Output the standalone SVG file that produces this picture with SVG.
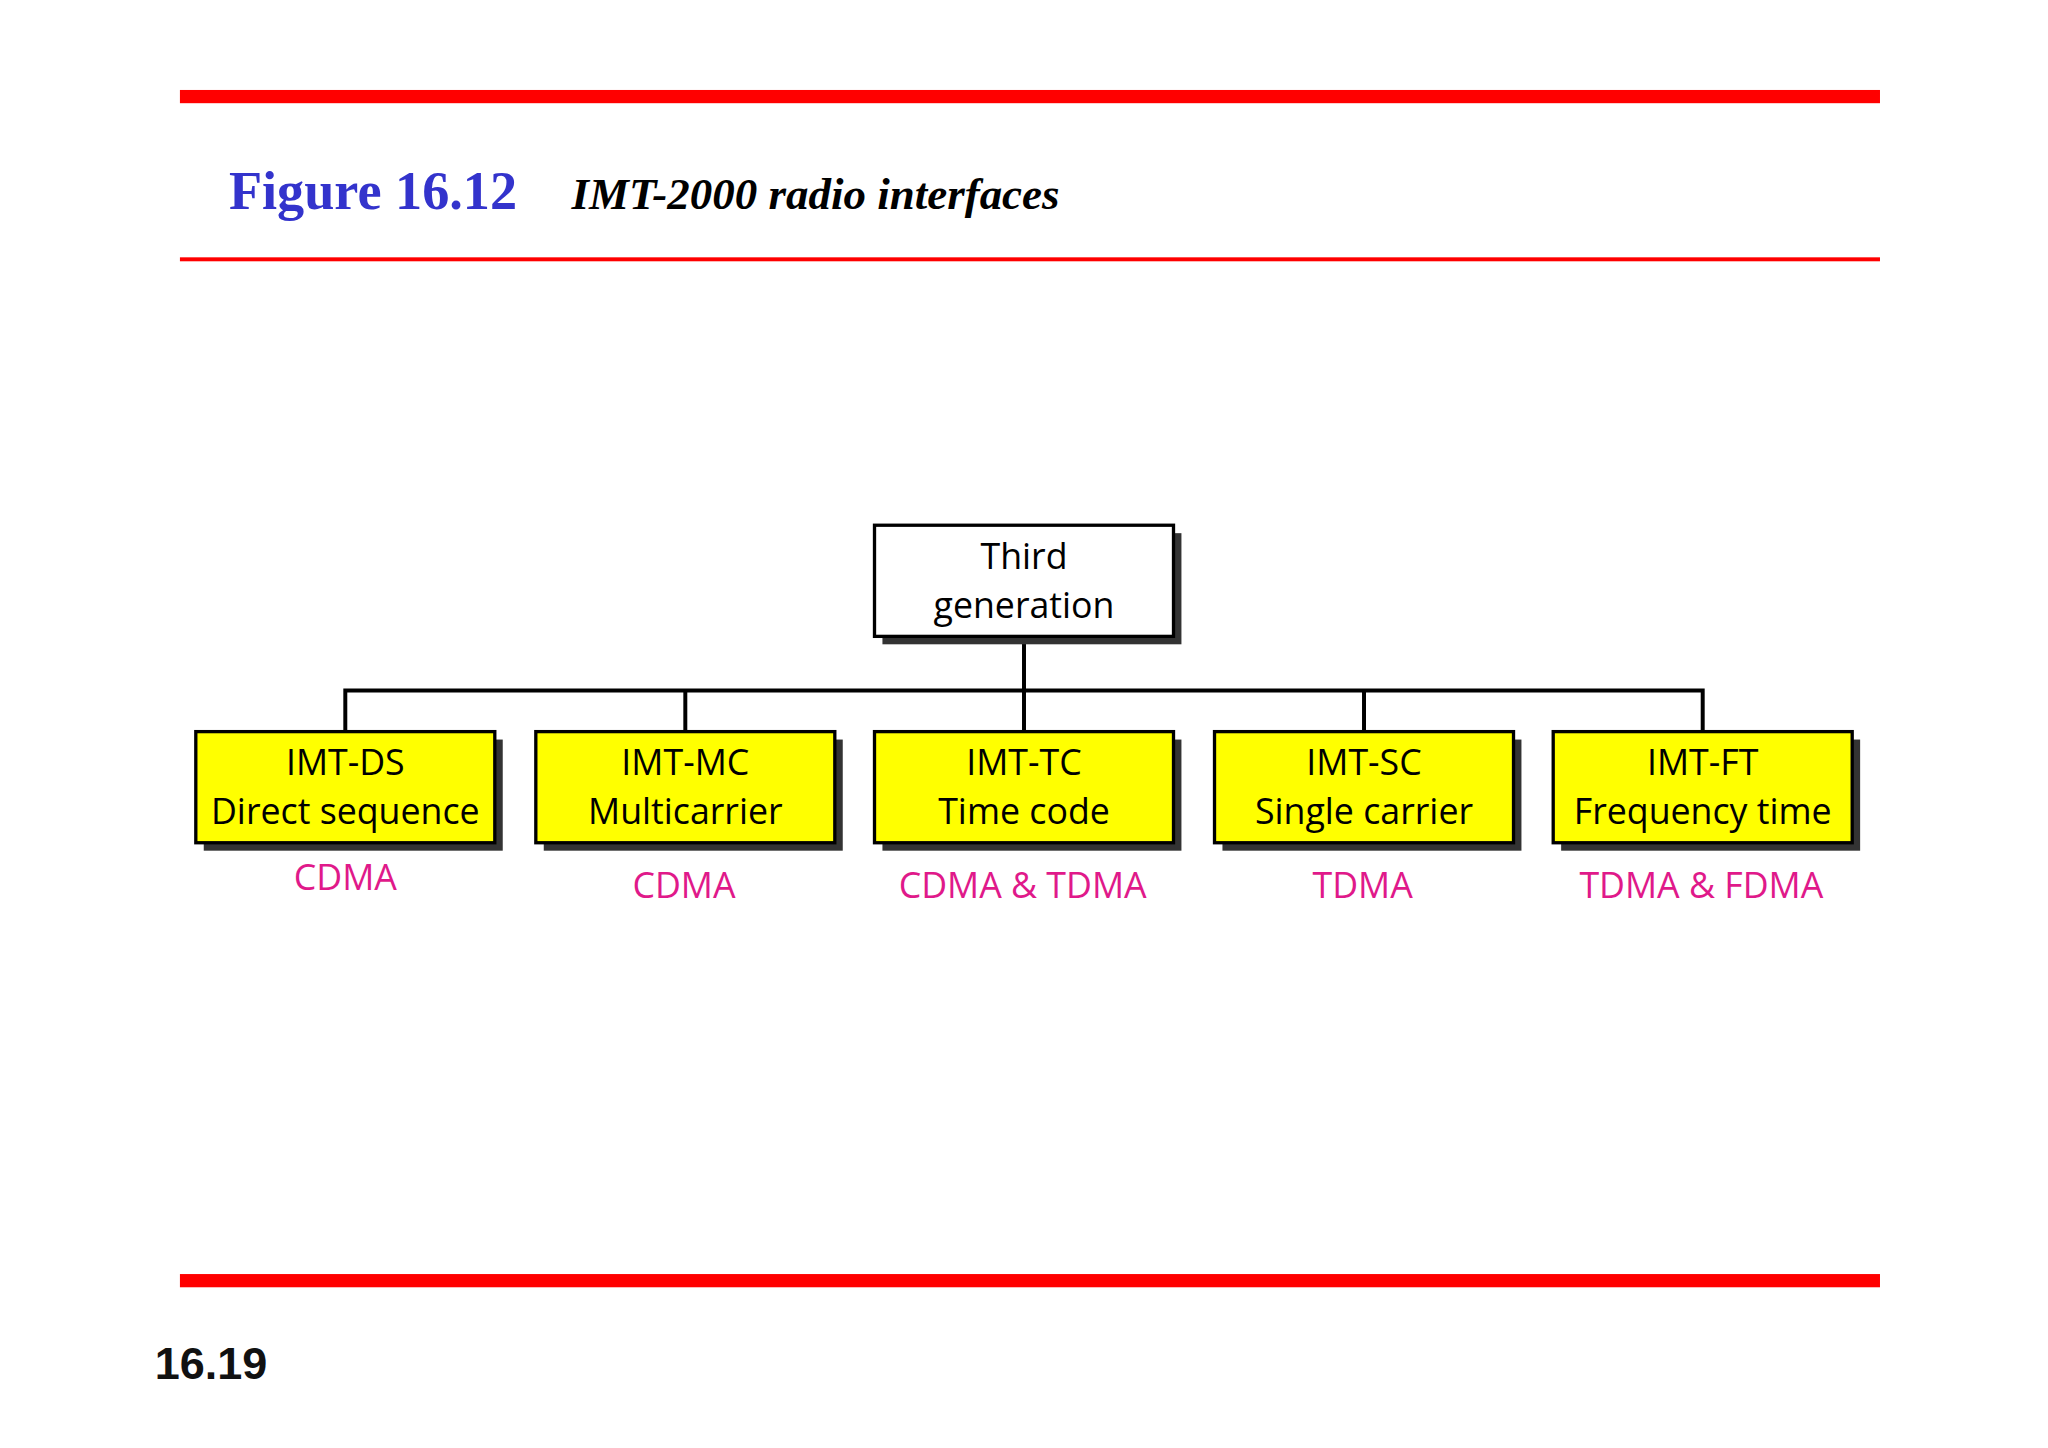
<svg xmlns="http://www.w3.org/2000/svg" width="2048" height="1448" viewBox="0 0 2048 1448">
<style>
.box{stroke:#000;stroke-width:2.5}
.y{fill:#ffff00}
.sh{fill:#333}
.t{font-family:"Open Sans","Liberation Sans",sans-serif;font-size:27px;text-anchor:middle;fill:#000}
.m{font-family:"Open Sans","Liberation Sans",sans-serif;font-size:27px;text-anchor:middle;fill:#e0198a}
</style>
<rect width="2048" height="1448" fill="#fff"/>
<g transform="scale(1.323)">
<g id="frame">
<rect x="136" y="68" width="1285" height="10" fill="#ff0000"/>
<rect x="136" y="194.5" width="1285" height="3" fill="#ff0000"/>
<rect x="136" y="963" width="1285" height="10" fill="#ff0000"/>
<text x="173" y="158" font-family="Liberation Serif,serif" font-weight="bold" font-size="41" fill="#3333cc">Figure 16.12</text>
<text x="432" y="158" font-family="Liberation Serif,serif" font-weight="bold" font-style="italic" font-size="34" fill="#000">IMT-2000 radio interfaces</text>
<text x="117" y="1042" font-family="Liberation Sans,sans-serif" font-weight="bold" font-size="34" fill="#111">16.19</text>
</g>
<g id="connectors" stroke="#000" stroke-width="3" fill="none">
<path d="M774 481V522M261 553V522H1287V553M518 522V553M774 522V553M1031 522V553"/>
</g>
<g id="root">
<rect class="sh" x="667" y="403" width="226" height="84"/>
<rect class="box" x="661" y="397" width="226" height="84" fill="#fff"/>
<text class="t" x="774" y="430">Third</text>
<text class="t" x="774" y="467">generation</text>
</g>
<g id="ds">
<rect class="sh" x="154" y="559" width="226" height="84"/>
<rect class="box y" x="148" y="553" width="226" height="84"/>
<text class="t" x="261" y="586">IMT-DS</text>
<text class="t" x="261" y="623">Direct sequence</text>
<text class="m" x="261" y="673">CDMA</text>
</g>
<g id="mc">
<rect class="sh" x="411" y="559" width="226" height="84"/>
<rect class="box y" x="405" y="553" width="226" height="84"/>
<text class="t" x="518" y="586">IMT-MC</text>
<text class="t" x="518" y="623">Multicarrier</text>
<text class="m" x="517" y="679">CDMA</text>
</g>
<g id="tc">
<rect class="sh" x="667" y="559" width="226" height="84"/>
<rect class="box y" x="661" y="553" width="226" height="84"/>
<text class="t" x="774" y="586">IMT-TC</text>
<text class="t" x="774" y="623">Time code</text>
<text class="m" x="773" y="679">CDMA &amp; TDMA</text>
</g>
<g id="sc">
<rect class="sh" x="924" y="559" width="226" height="84"/>
<rect class="box y" x="918" y="553" width="226" height="84"/>
<text class="t" x="1031" y="586">IMT-SC</text>
<text class="t" x="1031" y="623">Single carrier</text>
<text class="m" x="1030" y="679">TDMA</text>
</g>
<g id="ft">
<rect class="sh" x="1180" y="559" width="226" height="84"/>
<rect class="box y" x="1174" y="553" width="226" height="84"/>
<text class="t" x="1287" y="586">IMT-FT</text>
<text class="t" x="1287" y="623">Frequency time</text>
<text class="m" x="1286" y="679">TDMA &amp; FDMA</text>
</g>
</g>
</svg>
